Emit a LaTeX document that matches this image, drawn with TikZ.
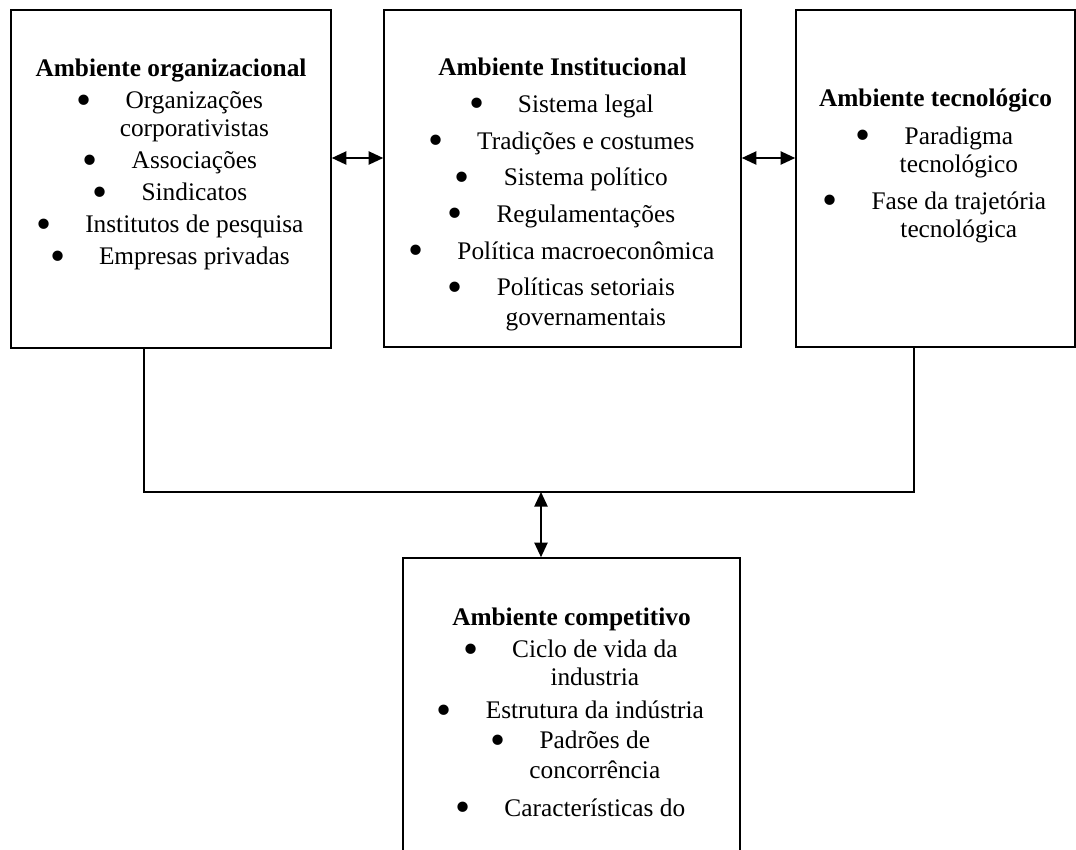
\documentclass[tikz,border=0pt]{standalone}
\usepackage{fontspec}
\usepackage{graphicx}
\setmainfont{Liberation Serif}
\usetikzlibrary{arrows.meta}

\newcommand{\blt}{\makebox[8pt]{\raisebox{-4pt}{\scalebox{1.7}{\textbullet}}}}
\newcommand{\itm}[1]{\blt\hspace{27pt}#1}
\newcommand{\cnt}[1]{\hphantom{\blt\hspace{27pt}}#1}

\begin{document}
\begin{tikzpicture}[x=0.75pt, y=-0.75pt,
    box/.style={rectangle, draw, line width=1.2pt, inner sep=0pt},
    txt/.style={anchor=north, align=center, inner sep=0pt, font=\fontsize{19pt}{21pt}\selectfont},
    link/.style={line width=1.2pt},
    seta/.style={line width=1.2pt, {Triangle[length=11pt,width=10pt]}-{Triangle[length=11pt,width=10pt]}}]
        \useasboundingbox (0,0) rectangle (1076,850);
        \clip (0,0) rectangle (1076,850);

        % Caixas
        \node[box, minimum width=240pt, minimum height=253.5pt] (org) at (171,179) {};
        \node[box, minimum width=267.75pt, minimum height=252.75pt] (inst) at (562.5,178.5) {};
        \node[box, minimum width=209.25pt, minimum height=252.75pt] (tec) at (935.5,178.5) {};
        \node[box, minimum width=252.75pt, minimum height=256.5pt] (comp) at (571.5,729) {};

        % Textos
        \node[txt] (orgtxt) at (171,59) {\textbf{Ambiente organizacional}\\[3pt]
            \itm{Organizações}\\ \cnt{corporativistas}\\[3pt]
            \itm{Associações}\\[3pt] \itm{Sindicatos}\\[3pt]
            \itm{Institutos de pesquisa}\\[3pt] \itm{Empresas privadas}};
        \node[txt, font=\fontsize{19pt}{22.5pt}\selectfont] (insttxt) at (562.5,58) {\textbf{Ambiente Institucional}\\[5pt]
            \itm{Sistema legal}\\[5pt] \itm{Tradições e costumes}\\[5pt]
            \itm{Sistema político}\\[5pt] \itm{Regulamentações}\\[5pt]
            \itm{Política macroeconômica}\\[5pt]
            \itm{Políticas setoriais}\\ \cnt{governamentais}};
        \node[txt] (tectxt) at (935.5,89) {\textbf{Ambiente tecnológico}\\[7pt]
            \itm{Paradigma}\\ \cnt{tecnológico}\\[7pt]
            \itm{Fase da trajetória}\\ \cnt{tecnológica}};
        \node[txt] (comptxt) at (571.5,608) {\textbf{Ambiente competitivo}\\[3pt]
            \itm{Ciclo de vida da}\\ \cnt{industria}\\[3.75pt]
            \itm{Estrutura da indústria}\\[1.5pt]
            \itm{Padrões de}\\[1.5pt] \cnt{concorrência}\\[7pt]
            \itm{Características do}};

        % Ligações
        \coordinate (jl) at (144,492);
        \coordinate (jr) at (914,492);
        \coordinate (jm) at (541,492);
        \draw[seta] (org.east |- 0,158) -- (inst.west |- 0,158);
        \draw[seta] (inst.east |- 0,158) -- (tec.west |- 0,158);
        \draw[link] (org.south -| jl) -- (jl) -- (jr) -- (tec.south -| jr);
        \draw[seta] (jm) -- (comp.north -| jm);
\end{tikzpicture}
\end{document}
